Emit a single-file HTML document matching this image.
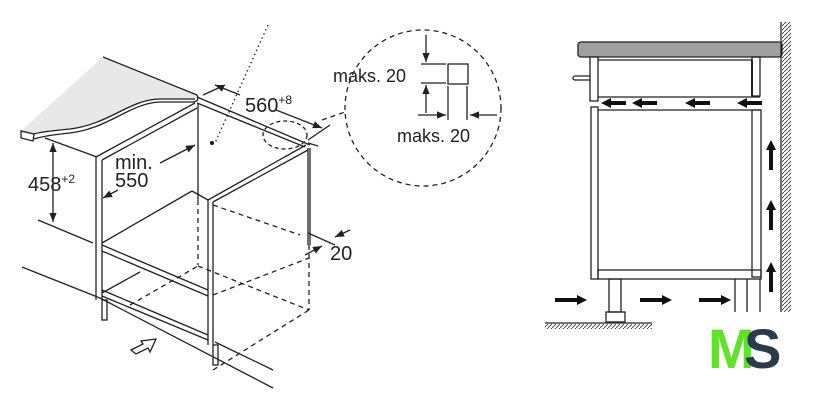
<!DOCTYPE html>
<html><head><style>
html,body{margin:0;padding:0;background:#fff;}
svg{display:block;}
text{font-family:"Liberation Sans",sans-serif;fill:#222;}
</style></head><body>
<svg width="840" height="411" viewBox="0 0 840 411" xmlns="http://www.w3.org/2000/svg">
<defs>
<marker id="ah" viewBox="0 0 10 10" refX="10" refY="5" markerWidth="7" markerHeight="7" orient="auto-start-reverse"><path d="M0,1 L10,5 L0,9 z" fill="#222"/></marker>
<pattern id="hatchR" width="4" height="4" patternUnits="userSpaceOnUse"><line x1="0" y1="4" x2="4" y2="0" stroke="#333" stroke-width="0.8"/></pattern>
<path id="la" d="M0,0 L10,-5 L10,-2 L25,-2 L25,2 L10,2 L10,5 Z"/>
<path id="ua" d="M0,0 L-5,10 L-2,10 L-2,30 L2,30 L2,10 L5,10 Z"/>
<path id="ra" d="M0,0 L-10,-5 L-10,-2 L-32,-2 L-32,2 L-10,2 L-10,5 Z"/>
</defs>
<g stroke="#222" stroke-width="1.3" fill="none">
<path d="M103,57 L197,95 Q199,100 193,100 L160,100 C130,100 110,125 70,130 C50,132 40,133 34,135 L20,132 Z" fill="#e8e8e8" stroke="none"/>
<line x1="103" y1="57" x2="197" y2="95"/>
<path d="M197,95 Q200,101 193,102 L160,102 C130,103 110,128 70,133 C50,135 40,137 34,139"/>
<path d="M195,99 L160,99 C130,99 110,124 70,129 C50,131 40,132 34,134"/>
<path d="M21,131 L21,138 L33,141 L34,134 Z"/>
<line x1="45" y1="138" x2="97" y2="157"/>
<line x1="38" y1="220" x2="93" y2="243"/>
<line x1="22" y1="267" x2="100" y2="298"/>
<line x1="100" y1="298" x2="273" y2="388"/>
<line x1="215" y1="342" x2="273" y2="370"/>
<line x1="96" y1="157" x2="96" y2="300"/><line x1="102" y1="160" x2="102" y2="300"/>
<line x1="96" y1="157" x2="195" y2="103"/><line x1="102" y1="160" x2="197" y2="108"/>
<line x1="198" y1="103" x2="198" y2="200"/>
<line x1="198" y1="200" x2="198" y2="265" stroke-dasharray="5,4"/>
<line x1="197" y1="97" x2="310" y2="145"/><line x1="197" y1="103" x2="305" y2="147"/>
<line x1="203" y1="95" x2="225" y2="85"/>
<line x1="308" y1="143" x2="318" y2="146"/>
<line x1="208" y1="200" x2="208" y2="345"/><line x1="213" y1="202" x2="213" y2="345"/>
<line x1="208" y1="200" x2="306" y2="145"/><line x1="213" y1="202" x2="308" y2="150"/>
<line x1="308" y1="148" x2="308" y2="245"/><line x1="310" y1="148" x2="310" y2="245"/>
<line x1="309" y1="245" x2="309" y2="310" stroke-dasharray="5,4"/>
<line x1="213" y1="205" x2="300" y2="235" stroke-dasharray="5,4"/>
<line x1="102" y1="243" x2="192" y2="191"/>
<line x1="192" y1="191" x2="208" y2="200"/>
<line x1="102" y1="245" x2="208" y2="290"/><line x1="102" y1="251" x2="208" y2="296"/>
<line x1="102" y1="290" x2="208" y2="335"/><line x1="102" y1="296" x2="208" y2="340"/>
<line x1="102" y1="293" x2="140" y2="272"/>
<line x1="130" y1="305" x2="198" y2="266" stroke-dasharray="5,4"/>
<line x1="198" y1="266" x2="309" y2="310" stroke-dasharray="5,4"/>
<line x1="213" y1="295" x2="309" y2="258" stroke-dasharray="5,4"/>
<line x1="213" y1="370" x2="309" y2="310" stroke-dasharray="5,4"/>
<rect x="102" y="300" width="5" height="20"/>
<rect x="213" y="345" width="5" height="20"/>
<line x1="268" y1="25" x2="215" y2="143" stroke-dasharray="1.5,3"/>
<circle cx="212" cy="143" r="1.5" fill="#222"/>
<ellipse cx="285" cy="135" rx="22" ry="14" stroke-dasharray="4,3"/>
<line x1="53" y1="143" x2="53" y2="222" marker-start="url(#ah)" marker-end="url(#ah)"/>
<line x1="160" y1="163" x2="195" y2="145" marker-end="url(#ah)"/>
<line x1="118" y1="190" x2="103" y2="198" marker-end="url(#ah)"/>
<line x1="240" y1="95" x2="215" y2="85" marker-end="url(#ah)"/>
<line x1="276" y1="110" x2="322" y2="128" marker-end="url(#ah)"/>
<line x1="308" y1="140" x2="330" y2="125"/>
<line x1="322" y1="120" x2="345" y2="112" stroke-dasharray="5,4"/>
<line x1="350" y1="230" x2="335" y2="237" marker-end="url(#ah)"/>
<line x1="305" y1="255" x2="322" y2="246" marker-end="url(#ah)"/>
<line x1="308" y1="233" x2="335" y2="245"/>
<path d="M131,350 L143,344 L141,341 L156,339 L150,352 L148,348 L136,354 Z"/>
<circle cx="423" cy="108" r="78" stroke-dasharray="5,4"/>
<rect x="448" y="64" width="20" height="20"/>
<line x1="421" y1="64" x2="446" y2="64"/><line x1="421" y1="83" x2="446" y2="83"/>
<line x1="426" y1="35" x2="426" y2="62" marker-end="url(#ah)"/>
<line x1="426" y1="113" x2="426" y2="85" marker-end="url(#ah)"/>
<line x1="448" y1="86" x2="448" y2="120"/><line x1="467" y1="86" x2="467" y2="120"/>
<line x1="418" y1="115" x2="446" y2="115" marker-end="url(#ah)"/>
<line x1="497" y1="115" x2="470" y2="115" marker-end="url(#ah)"/>
</g>
<text x="28" y="191" font-size="20">458<tspan font-size="12" dy="-8">+2</tspan></text>
<text x="115" y="169" font-size="20">min.</text>
<text x="115" y="187" font-size="20">550</text>
<text x="245" y="112" font-size="20">560<tspan font-size="12" dy="-8">+8</tspan></text>
<text x="330" y="260" font-size="20">20</text>
<text x="333" y="82" font-size="18">maks. 20</text>
<text x="397" y="142" font-size="18">maks. 20</text>
<g stroke="#222" stroke-width="1.3" fill="none">
<rect x="578" y="42" width="204" height="15" rx="3" fill="#a0a0a0"/>
<rect x="782" y="22" width="9" height="290" fill="url(#hatchR)" stroke="none"/>
<line x1="781" y1="22" x2="781" y2="312"/>
<rect x="590" y="57" width="8" height="44" fill="#fff"/>
<line x1="598" y1="60" x2="752" y2="60"/>
<line x1="752" y1="60" x2="752" y2="96" stroke-width="2"/>
<rect x="752" y="57" width="8" height="39"/>
<line x1="598" y1="97" x2="760" y2="97"/>
<line x1="598" y1="110" x2="760" y2="110"/>
<rect x="591" y="107" width="7" height="172"/>
<rect x="752" y="110" width="9" height="167"/>
<rect x="598" y="270" width="163" height="9"/>
<path d="M575,80 L590,80 M575,76 L590,76 M575,76 A2,2 0 0 0 575,80"/>
<rect x="609" y="279" width="12" height="33"/>
<rect x="606" y="312" width="19" height="10"/>
<line x1="545" y1="323" x2="652" y2="323"/>
<line x1="735" y1="279" x2="735" y2="312"/>
<line x1="747" y1="279" x2="747" y2="312"/>
<line x1="760" y1="279" x2="760" y2="312"/>
</g>
<rect x="545" y="324" width="107" height="5" fill="url(#hatchR)"/>
<g fill="#111">
<use href="#la" x="601" y="103"/><use href="#la" x="632" y="103"/><use href="#la" x="685" y="103"/><use href="#la" x="737" y="103"/>
<use href="#ua" x="771" y="140"/><use href="#ua" x="771" y="200"/><use href="#ua" x="771" y="262"/>
<use href="#ra" x="587" y="300"/><use href="#ra" x="672" y="300"/><use href="#ra" x="731" y="300"/>
</g>
<text x="708" y="368" font-size="56" font-weight="bold" style="fill:#5fe32a;letter-spacing:-6px">M</text>
<text x="744" y="368" font-size="56" font-weight="bold" style="fill:#2b3a4d">S</text>
</svg>
</body></html>
